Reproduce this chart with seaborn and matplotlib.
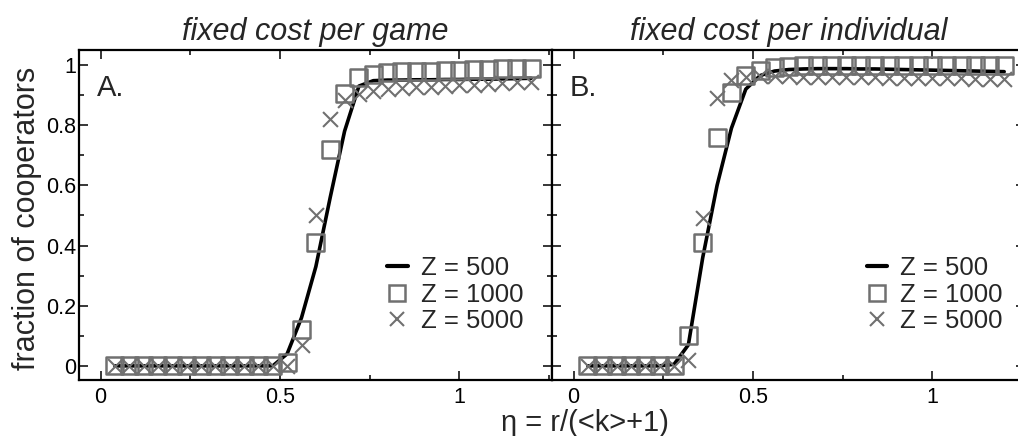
import numpy as np
import pandas as pd
import matplotlib
matplotlib.use("Agg")
import matplotlib.pyplot as plt
from matplotlib.ticker import MultipleLocator
from matplotlib.lines import Line2D
import seaborn as sns

sns.set_style("ticks")
plt.rcParams['font.family'] = ['Liberation Sans', 'DejaVu Sans']

# ---- data ----
eta = [0.04, 0.08, 0.12, 0.16, 0.20, 0.24, 0.28, 0.32, 0.36, 0.40,
       0.44, 0.48, 0.52, 0.56, 0.60, 0.64, 0.68, 0.72, 0.76, 0.80,
       0.84, 0.88, 0.92, 0.96, 1.00, 1.04, 1.08, 1.12, 1.16, 1.20]

# panel A: fixed cost per game
game_z500 = [0, 0, 0, 0, 0, 0, 0, 0, 0, 0,
             0, 0, 0.04, 0.16, 0.33, 0.56, 0.78, 0.93, 0.948, 0.950,
             0.950, 0.951, 0.951, 0.952, 0.952, 0.953, 0.953, 0.954, 0.955, 0.956]
game_z1000 = [0, 0, 0, 0, 0, 0, 0, 0, 0, 0,
              0, 0, 0.01, 0.12, 0.41, 0.72, 0.905, 0.96, 0.968, 0.974,
              0.977, 0.979, 0.980, 0.981, 0.983, 0.984, 0.986, 0.987, 0.987, 0.989]
game_z5000 = [0, 0, 0, 0, 0, 0, 0, 0, 0, 0,
              0, 0, 0, 0.07, 0.50, 0.82, 0.884, 0.905, 0.915, 0.921,
              0.923, 0.926, 0.928, 0.931, 0.933, 0.935, 0.937, 0.939, 0.942, 0.945]

# panel B: fixed cost per individual
ind_z500 = [0, 0, 0, 0, 0, 0, 0.005, 0.07, 0.36, 0.60,
            0.79, 0.92, 0.965, 0.980, 0.985, 0.987, 0.988, 0.988, 0.988, 0.987,
            0.987, 0.986, 0.985, 0.984, 0.983, 0.982, 0.981, 0.980, 0.979, 0.978]
ind_z1000 = [0, 0, 0, 0, 0, 0, 0, 0.10, 0.41, 0.76,
             0.91, 0.965, 0.983, 0.993, 0.996, 0.997, 0.998, 0.998, 0.998, 0.998,
             0.998, 0.998, 0.998, 0.998, 0.998, 0.998, 0.998, 0.998, 0.998, 0.998]
ind_z5000 = [0, 0, 0, 0, 0, 0, 0, 0.02, 0.49, 0.89,
             0.95, 0.961, 0.965, 0.963, 0.962, 0.961, 0.961, 0.960, 0.960, 0.959,
             0.959, 0.958, 0.958, 0.957, 0.957, 0.956, 0.956, 0.955, 0.955, 0.955]

titles = ["fixed cost per game", "fixed cost per individual"]
panel_labels = ["A.", "B."]
legend_labels = ["Z = 500", "Z = 1000", "Z = 5000"]
xticks = [0, 0.5, 1]
yticks = [0, 0.2, 0.4, 0.6, 0.8, 1]
ytick_labels = ["0", "0.2", "0.4", "0.6", "0.8", "1"]
xtick_labels = ["0", "0.5", "1"]

GRAY = "#707070"
W, H = 1018, 436
fig = plt.figure(figsize=(W / 100, H / 100), dpi=100)

axes_px = [(79, 50, 473, 330), (552, 50, 473, 330)]
panels = [(game_z500, game_z1000, game_z5000), (ind_z500, ind_z1000, ind_z5000)]
legend_anchor_x = [0.966, 0.98]

for i, ((l, t, w, h), (z500, z1000, z5000)) in enumerate(zip(axes_px, panels)):
    ax = fig.add_axes([l / W, (H - t - h) / H, w / W, h / H])
    df = pd.DataFrame({"eta": eta, "z500": z500, "z1000": z1000, "z5000": z5000})
    sns.lineplot(data=df, x="eta", y="z500", ax=ax, color="black", lw=2.6, zorder=2)
    sns.scatterplot(data=df, x="eta", y="z1000", ax=ax, marker="s", s=150,
                    facecolor="none", edgecolor=GRAY, linewidth=1.8, zorder=3)
    sns.scatterplot(data=df, x="eta", y="z5000", ax=ax, marker="x", s=115,
                    color=GRAY, linewidth=1.5, zorder=4)
    ax.set_xlim(-0.06, 1.258)
    ax.set_ylim(-0.047, 1.05)
    ax.set_xticks(xticks)
    ax.set_xticklabels(xtick_labels)
    ax.set_yticks(yticks)
    if i == 0:
        ax.set_yticklabels(ytick_labels)
    else:
        ax.set_yticklabels([])
    ax.xaxis.set_minor_locator(MultipleLocator(0.25))
    ax.yaxis.set_minor_locator(MultipleLocator(0.1))
    ax.tick_params(which="both", direction="in", top=True, right=True,
                   width=1.1, labelsize=15.5, colors="black")
    ax.tick_params(which="major", length=6.5)
    ax.tick_params(which="minor", length=3.5)
    ax.tick_params(axis="y", pad=2)
    ax.tick_params(axis="x", pad=5)
    for sp in ax.spines.values():
        sp.set_linewidth(1.6)
        sp.set_color("black")
    ax.set_xlabel("")
    ax.set_ylabel("")
    ax.set_title(titles[i], fontsize=22, style="italic", pad=7)
    ax.text(-0.01, 0.925, panel_labels[i], fontsize=21, ha="left", va="center",
            transform=ax.transData)
    handles = [Line2D([], [], color="black", lw=3),
               Line2D([], [], marker="s", ls="none", ms=12, mfc="none", mec=GRAY, mew=1.8),
               Line2D([], [], marker="x", ls="none", ms=10.5, color=GRAY, mew=1.5)]
    ax.legend(handles, legend_labels, loc="lower right",
              bbox_to_anchor=(legend_anchor_x[i], 0.103),
              frameon=False, fontsize=18.5, handlelength=0.8, handletextpad=0.5,
              labelspacing=0.1, borderpad=0)

fig.text(27 / W, 1 - 218 / H, "fraction of cooperators", rotation=90,
         fontsize=22, ha="center", va="center")
fig.text(585 / W, 5 / H, "\u03b7 = r/(<k>+1)", fontsize=21,
         ha="center", va="baseline")

fig.savefig("out.png", dpi=100)
